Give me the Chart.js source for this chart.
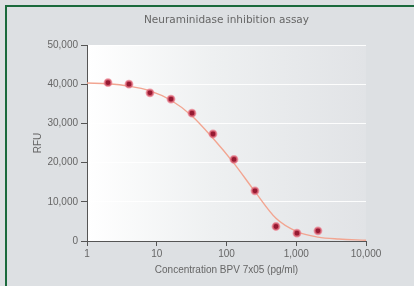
<!DOCTYPE html>
<html>
<head>
<meta charset="utf-8">
<script src="https://cdn.jsdelivr.net/npm/chart.js@4"></script>
<style>
  html, body { margin: 0; padding: 0; background: #dde0e3; }
  #wrap { width: 414px; height: 286px; }
</style>
</head>
<body>
<div id="wrap"><canvas id="assay" width="414" height="286"></canvas></div>
<script>
// measured points (doubling dilutions)
const concentrations = [2, 4, 8, 16, 32, 64, 128, 256, 512, 1024, 2048]
const rfuValues = [40400, 40000, 37800, 36200, 32600, 27300, 20800, 12800, 3700, 2000, 2600]

// fitted curve
const fitConcentrations = [1, 2, 4, 8, 16, 32, 64, 128, 256, 512, 1024, 2048, 4096, 10000]
const fitValues = [40300, 40100, 39500, 38300, 35900, 31900, 26200, 19800, 12600, 5800, 2400, 1000, 500, 200]

const yTicks = [0, 10000, 20000, 30000, 40000, 50000]
const xTicks = [1, 10, 100, 1000, 10000]

const titleText = "Neuraminidase inhibition assay"
const fontFamily = "'Liberation Sans', Arial, sans-serif"

const fmt = v => v.toLocaleString("en-US")

const backdrop = {
    id: "backdrop",
    beforeDraw(chart) {
        const ctx = chart.ctx
        const a = chart.chartArea
        ctx.save()
        ctx.fillStyle = "#dde0e3"
        ctx.fillRect(0, 0, chart.width, chart.height)
        // green frame, top and left
        ctx.fillStyle = "#1b6a3d"
        ctx.fillRect(5, 5, chart.width - 5, 2)
        ctx.fillRect(5, 5, 2, chart.height - 5)
        // plot area gradient
        const g = ctx.createLinearGradient(a.left, 0, a.right, 0)
        g.addColorStop(0, "#ffffff")
        g.addColorStop(0.45, "#eef0f1")
        g.addColorStop(1, "#e1e3e6")
        ctx.fillStyle = g
        ctx.fillRect(a.left, a.top, a.right - a.left, a.bottom - a.top)
        ctx.restore()
    },
    afterDraw(chart) {
        const ctx = chart.ctx
        const a = chart.chartArea
        ctx.save()
        ctx.fillStyle = "#666"
        ctx.font = "10.5px 'DejaVu Sans', sans-serif"
        ctx.textAlign = "center"
        ctx.textBaseline = "middle"
        ctx.fillText(titleText, (a.left + a.right) / 2, 20)
        ctx.restore()
    }
}

new Chart("assay", {
    type: "line",
    data: {
        datasets: [{
            label: "Measured",
            data: concentrations.map((c, i) => ({ x: c, y: rfuValues[i] })),
            showLine: false,
            pointRadius: 3.4,
            pointBackgroundColor: "#961a32",
            pointBorderColor: "rgba(235,120,135,0.7)",
            pointBorderWidth: 2,
            order: 0
        }, {
            label: "Fit",
            data: fitConcentrations.map((c, i) => ({ x: c, y: fitValues[i] })),
            borderColor: "#f2a591",
            borderWidth: 1.4,
            pointRadius: 0,
            cubicInterpolationMode: "monotone",
            fill: false,
            order: 1
        }]
    },
    options: {
        responsive: false,
        animation: false,
        layout: { padding: { left: 0, right: 48, top: 45, bottom: 0 } },
        plugins: {
            legend: { display: false },
            tooltip: { enabled: false }
        },
        scales: {
            x: {
                type: "logarithmic",
                min: 1,
                max: 10000,
                afterBuildTicks: scale => { scale.ticks = xTicks.map(v => ({ value: v })) },
                afterFit: scale => { scale.height = 45 },
                border: { color: "#555", width: 1 },
                grid: { drawOnChartArea: false, tickLength: 5, color: "#555" },
                ticks: {
                    color: "#666",
                    font: { family: fontFamily, size: 10 },
                    padding: 2,
                    maxRotation: 0,
                    callback: v => fmt(v)
                },
                title: {
                    display: true,
                    text: "Concentration BPV 7x05 (pg/ml)",
                    color: "#666",
                    font: { family: fontFamily, size: 10 },
                    padding: { top: 0, bottom: 10 }
                }
            },
            y: {
                min: 0,
                max: 50000,
                afterBuildTicks: scale => { scale.ticks = yTicks.map(v => ({ value: v })) },
                afterFit: scale => { scale.width = 87 },
                border: { color: "#555", width: 1 },
                grid: {
                    color: "rgba(255,255,255,0.9)",
                    tickColor: "#555",
                    tickLength: 6,
                    drawTicks: true
                },
                ticks: {
                    color: "#666",
                    font: { family: fontFamily, size: 10 },
                    padding: 3,
                    callback: v => fmt(v)
                },
                title: {
                    display: true,
                    text: "RFU",
                    color: "#666",
                    font: { family: fontFamily, size: 10 },
                    padding: { top: 32, bottom: 0 }
                }
            }
        }
    },
    plugins: [backdrop]
})
</script>
</body>
</html>
